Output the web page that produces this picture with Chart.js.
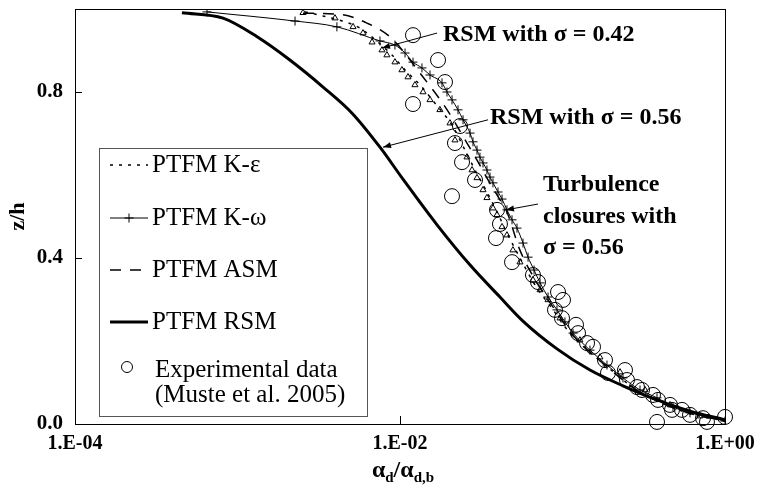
<!DOCTYPE html>
<html>
<head>
<meta charset="utf-8">
<script src="https://cdn.jsdelivr.net/npm/chart.js@4.4.0/dist/chart.umd.min.js"></script>
<style>
  html, body { margin: 0; padding: 0; background: #fff; }
  canvas { display: block; }
</style>
</head>
<body>
<canvas id="profile" width="758" height="494"></canvas>
<script>
// axis ticks
const xTicks = [1e-4, 1e-2, 1];
const xTickLabels = ['1.E-04', '1.E-02', '1.E+00'];
const yTicks = [0, 0.4, 0.8];

// PTFM K-epsilon (dotted)
const kEpsAlpha = [0.0026, 0.00313, 0.00459, 0.00568, 0.00732, 0.00893, 0.01074, 0.01327, 0.01641, 0.0209, 0.02512, 0.02938, 0.03428, 0.03953, 0.04624, 0.05475, 0.06776, 0.0875, 0.1112, 0.1775, 0.2873, 0.5834, 1.0];
const kEpsZ     = [0.993, 0.986, 0.969, 0.954, 0.920, 0.889, 0.853, 0.817, 0.773, 0.720, 0.660, 0.607, 0.559, 0.511, 0.455, 0.400, 0.335, 0.275, 0.219, 0.147, 0.082, 0.027, 0.007];

// PTFM K-omega (line with + markers)
const kOmAlpha = [0.000649, 0.00226, 0.00409, 0.00753, 0.00931, 0.01074, 0.01202, 0.01365, 0.0153, 0.01813, 0.01946, 0.0209, 0.02275, 0.02443, 0.02698, 0.02813, 0.02978, 0.03105, 0.03243, 0.03428, 0.0358, 0.03734, 0.04009, 0.04245, 0.04551, 0.04891, 0.05248, 0.05715, 0.06138, 0.06683, 0.07278, 0.08147, 0.09247, 0.1035, 0.1161, 0.1476, 0.1878, 0.2356, 0.2999, 0.3816, 0.4786, 0.6091, 1.0];
const kOmZ     = [0.993, 0.971, 0.957, 0.923, 0.913, 0.894, 0.872, 0.858, 0.841, 0.822, 0.800, 0.781, 0.757, 0.733, 0.701, 0.680, 0.660, 0.643, 0.629, 0.612, 0.595, 0.581, 0.559, 0.542, 0.516, 0.492, 0.472, 0.436, 0.402, 0.371, 0.340, 0.306, 0.275, 0.246, 0.219, 0.178, 0.142, 0.111, 0.082, 0.063, 0.041, 0.027, 0.007];

// PTFM ASM (dashed)
const asmAlpha = [0.00253, 0.00446, 0.00626, 0.00867, 0.01386, 0.0195, 0.02583, 0.02978, 0.03481, 0.04123, 0.04551, 0.0547, 0.06966, 0.08991, 0.1144, 0.1826, 0.2914, 0.5918, 1.0];
const asmZ     = [0.990, 0.986, 0.966, 0.933, 0.836, 0.757, 0.677, 0.636, 0.588, 0.540, 0.511, 0.419, 0.340, 0.275, 0.217, 0.142, 0.080, 0.027, 0.007];

// PTFM RSM, sigma = 0.56 (thick solid)
const rsmAlpha = [0.000455, 0.000815, 0.00132, 0.0021, 0.00336, 0.00507, 0.00753, 0.01043, 0.0169, 0.027, 0.0412, 0.0571, 0.0925, 0.1476, 0.2356, 0.3816, 0.609, 1.0];
const rsmZ     = [0.991, 0.978, 0.933, 0.877, 0.812, 0.749, 0.667, 0.590, 0.480, 0.383, 0.306, 0.248, 0.181, 0.130, 0.092, 0.058, 0.031, 0.010];

// RSM, sigma = 0.42 (triangles)
const rsm42Alpha = [0.00253, 0.00398, 0.00514, 0.00592, 0.00673, 0.00775, 0.00831, 0.00931, 0.01028, 0.0112, 0.01236, 0.01386, 0.0153, 0.0176, 0.0203, 0.0218, 0.02583, 0.02775, 0.02978, 0.03243, 0.03428, 0.03734, 0.03953, 0.04245, 0.04551, 0.04955, 0.05475, 0.06581, 0.07278, 0.08147, 0.0966, 0.128, 0.170, 0.226, 0.322, 0.459, 0.702];
const rsm42Z     = [0.991, 0.978, 0.957, 0.942, 0.920, 0.901, 0.889, 0.872, 0.853, 0.836, 0.817, 0.800, 0.781, 0.757, 0.725, 0.684, 0.643, 0.612, 0.593, 0.564, 0.545, 0.520, 0.504, 0.475, 0.455, 0.419, 0.390, 0.347, 0.323, 0.299, 0.255, 0.202, 0.161, 0.125, 0.082, 0.046, 0.019];

// Experimental data (Muste et al. 2005)
const expAlpha = [0.01202, 0.01714, 0.01892, 0.01202, 0.02339, 0.02179, 0.02408, 0.02895, 0.02089, 0.03953, 0.04123, 0.03897, 0.04891, 0.06581, 0.07068, 0.09385, 0.1007, 0.08991, 0.09931, 0.1211, 0.1246, 0.1416, 0.1541, 0.1826, 0.1905, 0.2424, 0.2493, 0.2873, 0.3085, 0.3604, 0.3871, 0.4587, 0.472, 0.5437, 0.6091, 0.7321, 0.7747, 0.3816, 1.0];
const expZ     = [0.937, 0.877, 0.824, 0.771, 0.718, 0.677, 0.631, 0.588, 0.549, 0.516, 0.482, 0.448, 0.390, 0.359, 0.342, 0.318, 0.299, 0.275, 0.255, 0.239, 0.219, 0.195, 0.186, 0.154, 0.123, 0.130, 0.106, 0.089, 0.082, 0.070, 0.058, 0.046, 0.034, 0.034, 0.022, 0.014, 0.005, 0.005, 0.017];

const pts = (xs, ys) => xs.map((v, i) => ({ x: v, y: ys[i] }));
const serif = '"Liberation Serif", "Times New Roman", serif';

// text notes, anchored in data units
const notes = [
  { lines: ['RSM with σ = 0.42'], at: [0.0184, 0.937], from: [0.0169, 0.942], to: [0.00775, 0.906] },
  { lines: ['RSM with σ = 0.56'], at: [0.0358, 0.737], from: [0.0348, 0.733], to: [0.00786, 0.667] },
  { lines: ['Turbulence', 'closures with', 'σ = 0.56'], at: [0.0759, 0.576], from: [0.0707, 0.530], to: [0.0449, 0.516] }
];

const legendRows = [
  { ds: 0, text: ['PTFM K-ε'] },
  { ds: 1, text: ['PTFM K-ω'] },
  { ds: 2, text: ['PTFM ASM'] },
  { ds: 3, text: ['PTFM RSM'] },
  { ds: 5, text: ['Experimental data', '(Muste et al. 2005)'] }
];

function arrow(ctx, x0, y0, x1, y1) {
  ctx.beginPath();
  ctx.moveTo(x0, y0);
  ctx.lineTo(x1, y1);
  ctx.stroke();
  const a = Math.atan2(y1 - y0, x1 - x0);
  ctx.beginPath();
  ctx.moveTo(x1, y1);
  ctx.lineTo(x1 - 8 * Math.cos(a) + 3 * Math.sin(a), y1 - 8 * Math.sin(a) - 3 * Math.cos(a));
  ctx.lineTo(x1 - 8 * Math.cos(a) - 3 * Math.sin(a), y1 - 8 * Math.sin(a) + 3 * Math.cos(a));
  ctx.closePath();
  ctx.fill();
}

const extras = {
  id: 'extras',
  afterDraw(chart) {
    const { ctx, chartArea: a, scales: { x, y } } = chart;
    ctx.save();
    ctx.strokeStyle = '#000';
    ctx.fillStyle = '#000';
    ctx.lineWidth = 1;

    // frame + inward ticks
    ctx.strokeRect(a.left + 0.5, a.top + 0.5, a.right - a.left, a.bottom - a.top);
    ctx.beginPath();
    yTicks.forEach(v => {
      const p = Math.round(y.getPixelForValue(v)) + 0.5;
      ctx.moveTo(a.left, p); ctx.lineTo(a.left + 7, p);
    });
    xTicks.forEach(v => {
      const p = Math.round(x.getPixelForValue(v)) + 0.5;
      ctx.moveTo(p, a.bottom); ctx.lineTo(p, a.bottom - 8);
    });
    ctx.stroke();

    // notes
    ctx.font = 'bold 24px ' + serif;
    ctx.textBaseline = 'middle';
    ctx.textAlign = 'left';
    notes.forEach(n => {
      const tx = x.getPixelForValue(n.at[0]);
      const ty = y.getPixelForValue(n.at[1]);
      n.lines.forEach((t, i) => ctx.fillText(t, tx, ty + i * 31.5));
      arrow(ctx, x.getPixelForValue(n.from[0]), y.getPixelForValue(n.from[1]),
                 x.getPixelForValue(n.to[0]), y.getPixelForValue(n.to[1]));
    });

    // x axis title with subscripts
    const big = 'bold 24px ' + serif, small = 'bold 15px ' + serif;
    const parts = [['α', big, 0], ['d', small, 5], ['/', big, 0], ['α', big, 0], ['d,b', small, 5]];
    let w = 0;
    parts.forEach(p => { ctx.font = p[1]; w += ctx.measureText(p[0]).width; });
    let cx = (a.left + a.right) / 2 + 3 - w / 2;
    ctx.textBaseline = 'alphabetic';
    parts.forEach(p => {
      ctx.font = p[1];
      ctx.fillText(p[0], cx, 477 + p[2]);
      cx += ctx.measureText(p[0]).width;
    });

    // legend box
    const lx = a.left + 24, ly = a.top + 139, lw = 268, lh = 268;
    ctx.fillStyle = '#fff';
    ctx.fillRect(lx, ly, lw, lh);
    ctx.strokeStyle = '#555';
    ctx.strokeRect(lx + 0.5, ly + 0.5, lw, lh);
    const rowY = [17, 70, 122, 174, 222];
    ctx.font = '25px ' + serif;
    ctx.textBaseline = 'middle';
    legendRows.forEach((r, i) => {
      const ds = chart.data.datasets[r.ds];
      const yc = ly + rowY[i];
      const x0 = lx + 11, x1 = lx + 49;
      ctx.strokeStyle = '#000';
      ctx.fillStyle = '#000';
      if (ds.showLine) {
        ctx.save();
        ctx.lineWidth = ds.borderWidth;
        ctx.setLineDash(ds.borderDash || []);
        ctx.beginPath();
        ctx.moveTo(x0, yc); ctx.lineTo(x1, yc);
        ctx.stroke();
        ctx.restore();
      }
      if (ds.pointRadius > 0) {
        ctx.save();
        ctx.lineWidth = 1;
        ctx.fillStyle = 'rgba(0,0,0,0)';
        Chart.helpers.drawPoint(ctx, { pointStyle: ds.pointStyle, radius: r.ds === 5 ? 5.5 : ds.pointRadius, borderWidth: 1, rotation: 0 }, r.ds === 5 ? lx + 28 : (x0 + x1) / 2, r.ds === 5 ? yc - 3 : yc);
        ctx.restore();
      }
      ctx.fillStyle = '#000';
      r.text.forEach((t, j) => ctx.fillText(t, lx + (r.ds === 5 ? 56 : 53), yc + j * 25));
    });
    ctx.restore();
  }
};

Chart.defaults.font.family = serif;
Chart.defaults.color = '#000';

new Chart(document.getElementById('profile'), {
  type: 'scatter',
  data: {
    datasets: [
      { label: 'PTFM K-ε', data: pts(kEpsAlpha, kEpsZ), showLine: true, borderColor: '#000', borderWidth: 1.5, borderDash: [3, 6], pointRadius: 0, cubicInterpolationMode: 'monotone' },
      { label: 'PTFM K-ω', data: pts(kOmAlpha, kOmZ), showLine: true, borderColor: '#000', borderWidth: 1, pointStyle: 'cross', pointRadius: 4.5, pointBorderWidth: 1, pointBorderColor: '#000', cubicInterpolationMode: 'monotone' },
      { label: 'PTFM ASM', data: pts(asmAlpha, asmZ), showLine: true, borderColor: '#000', borderWidth: 1.5, borderDash: [11, 9], pointRadius: 0, cubicInterpolationMode: 'monotone' },
      { label: 'PTFM RSM', data: pts(rsmAlpha, rsmZ), showLine: true, borderColor: '#000', borderWidth: 3, pointRadius: 0, cubicInterpolationMode: 'monotone' },
      { label: 'RSM σ = 0.42', data: pts(rsm42Alpha, rsm42Z), showLine: false, pointStyle: 'triangle', pointRadius: 3.5, pointBorderWidth: 1, pointBorderColor: '#000', pointBackgroundColor: 'rgba(0,0,0,0)' },
      { label: 'Experimental data', data: pts(expAlpha, expZ), showLine: false, pointStyle: 'circle', pointRadius: 7.5, pointBorderWidth: 1, pointBorderColor: '#000', pointBackgroundColor: 'rgba(0,0,0,0)', clip: 12 }
    ]
  },
  options: {
    responsive: false,
    animation: false,
    devicePixelRatio: 1,
    layout: { padding: { top: 9, right: 33, left: 0, bottom: 0 } },
    plugins: { legend: { display: false }, tooltip: { enabled: false } },
    scales: {
      x: {
        type: 'logarithmic',
        min: 1e-4,
        max: 1,
        grid: { display: false, drawTicks: false },
        border: { display: false },
        afterBuildTicks: s => { s.ticks = xTicks.map(v => ({ value: v })); },
        afterFit: s => { s.height = 70; s.paddingLeft = 0; s.paddingRight = 0; },
        ticks: {
          autoSkip: false,
          maxRotation: 0,
          padding: 8,
          font: { size: 20, weight: 'bold' },
          callback: v => xTickLabels[xTicks.indexOf(v)]
        }
      },
      y: {
        min: 0,
        max: 1,
        grid: { display: false, drawTicks: false },
        border: { display: false },
        afterBuildTicks: s => { s.ticks = yTicks.map(v => ({ value: v })); },
        afterFit: s => { s.width = 75; s.paddingTop = 0; s.paddingBottom = 0; },
        ticks: {
          padding: 12,
          font: { size: 21, weight: 'bold' },
          callback: v => v.toFixed(1)
        },
        title: {
          display: true,
          text: 'z/h',
          font: { size: 22, weight: 'bold' },
          padding: { top: 5, bottom: 0 }
        }
      }
    }
  },
  plugins: [extras]
});
</script>
</body>
</html>
